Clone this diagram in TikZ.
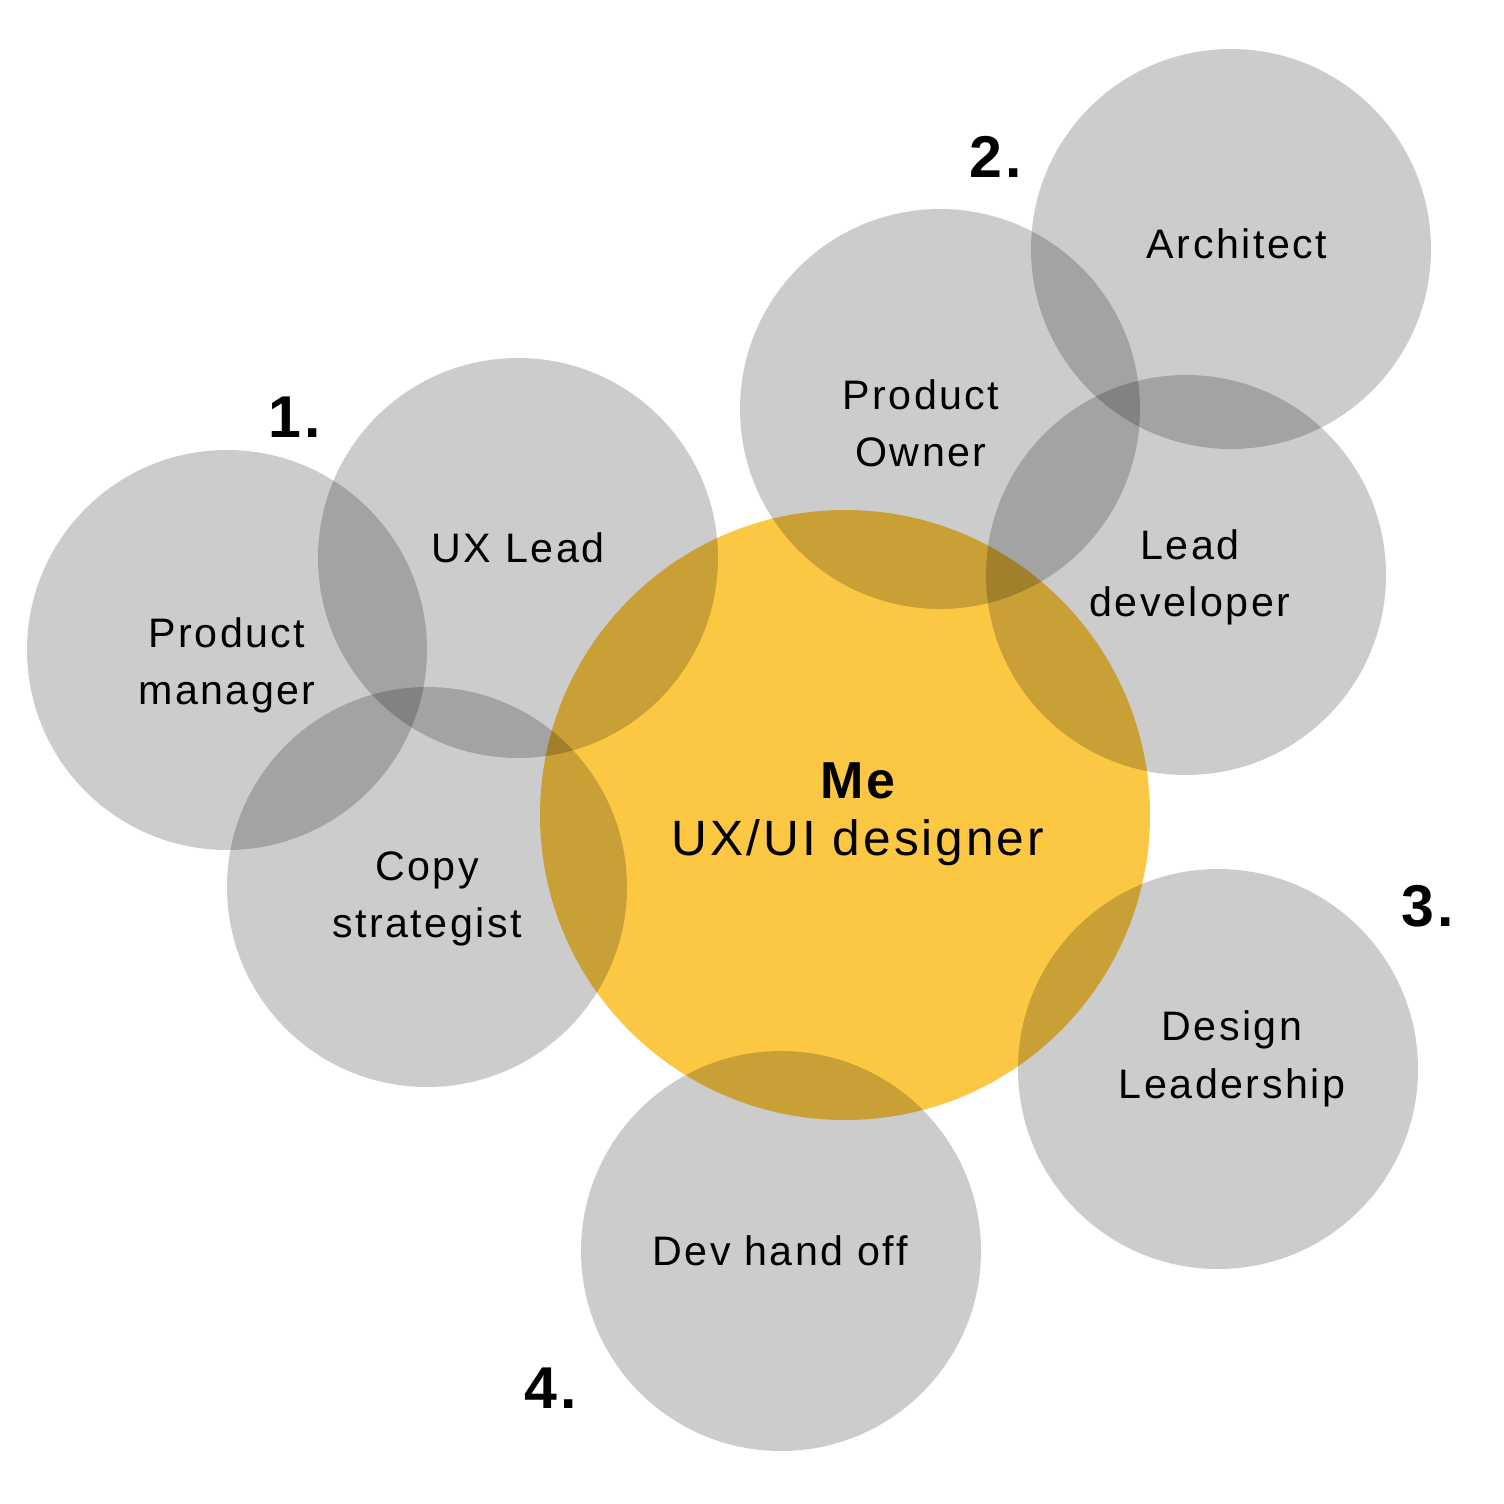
\documentclass[tikz,border=0pt]{standalone}
\usepackage{fontspec}
\setmainfont{Liberation Sans}[LetterSpace=6.0]
\definecolor{meyellow}{HTML}{FCC844}
\begin{document}
\begin{tikzpicture}[x=0.5pt,y=-0.5pt,
  ycircle/.style={circle,inner sep=0pt,minimum size=305pt,fill=meyellow},
  gcircle/.style={circle,inner sep=0pt,minimum size=200pt,fill=black,fill opacity=0.2},
  lbl/.style={anchor=base,inner sep=0pt,font=\fontsize{20.6pt}{24pt}\selectfont},
  num/.style={anchor=base,inner sep=0pt,font=\fontsize{29.5pt}{34pt}\selectfont\bfseries},
]
\useasboundingbox[fill=white] (0,0) rectangle (1504,1504);
% central circle
\node[ycircle] (me) at (845,815) {};
% grey circles
\node[gcircle] (pm)   at (227,650)  {};
\node[gcircle] (uxl)  at (518,558)  {};
\node[gcircle] (copy) at (427,887)  {};
\node[gcircle] (po)   at (940,409)  {};
\node[gcircle] (arch) at (1231,249) {};
\node[gcircle] (ld)   at (1186,575) {};
\node[gcircle] (dl)   at (1218,1069){};
\node[gcircle] (dev)  at (781,1251) {};
% labels
\node[anchor=base,inner sep=0pt,font=\fontsize{26pt}{30pt}\selectfont\bfseries] (metxt) at (858,798) {Me};
\node[anchor=base,inner sep=0pt,font=\fontsize{24.8pt}{30pt}\selectfont] (role) at (858,855) {UX/UI designer};
\node[lbl] (pmA) at (227,647) {Product};
\node[lbl] (pmB) at (227,704) {manager};
\node[lbl] (uxlA) at (518,562) {UX Lead};
\node[lbl] (copyA) at (427,880) {Copy};
\node[lbl] (copyB) at (427,937) {strategist};
\node[lbl] (poA) at (921,409) {Product};
\node[lbl] (poB) at (921,466) {Owner};
\node[lbl] (archA) at (1237,258) {Architect};
\node[lbl] (ldA) at (1190,559) {Lead};
\node[lbl] (ldB) at (1190,616) {developer};
\node[lbl] (dlA) at (1232,1040) {Design};
\node[lbl] (dlB) at (1232,1098) {Leadership};
\node[lbl] (devA) at (780,1265) {Dev hand off};
% numbers
\node[num] (n1) at (295,437) {1.};
\node[num] (n2) at (996,177) {2.};
\node[num] (n3) at (1428,926) {3.};
\node[num] (n4) at (551,1408) {4.};
\end{tikzpicture}
\end{document}
